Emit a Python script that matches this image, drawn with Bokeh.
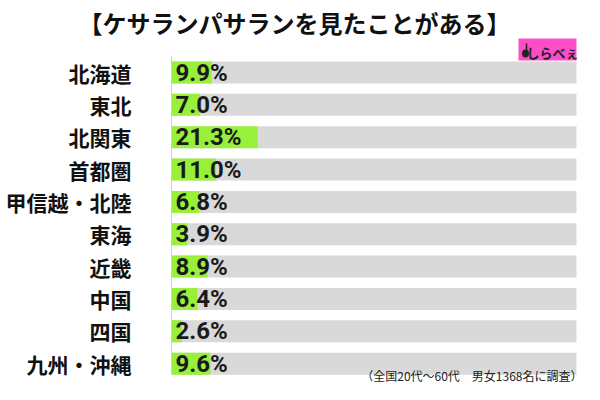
from bokeh.plotting import figure
from bokeh.models import Range1d, ColumnDataSource
from bokeh.embed import file_html
from bokeh.resources import INLINE
from bokeh.core.properties import value

# ---- data ----
title = "【ケサランパサランを見たことがある】"
categories = ["北海道", "東北", "北関東", "首都圏", "甲信越・北陸",
              "東海", "近畿", "中国", "四国", "九州・沖縄"]
values = [9.9, 7.0, 21.3, 11.0, 6.8, 3.9, 8.9, 6.4, 2.6, 9.6]
full_scale = 100
note = "（全国20代～60代　男女1368名に調査）"
brand = "しらべぇ"

# ---- layout (pixels) ----
W, H = 584, 384
X0_PX, X100_PX = 171, 576
ROW0_PX, ROW_STEP_PX = 72, 32.35

ux = (X100_PX - X0_PX) / 100.0
xs = -X0_PX / ux
xe = xs + W / ux
y_top = -ROW0_PX / ROW_STEP_PX
y_bottom = y_top + H / ROW_STEP_PX


def X(px):
    return xs + px / ux


def Y(py):
    return y_top + py / ROW_STEP_PX


rows = list(range(len(categories)))
labels = [f"{v:.1f}%" for v in values]
src = ColumnDataSource(dict(row=rows, cat=categories, val=values, lab=labels,
                            full=[full_scale] * len(rows)))

p = figure(width=W, height=H, x_range=Range1d(xs, xe),
           y_range=Range1d(y_bottom, y_top),
           x_axis_location=None, y_axis_location=None,
           output_backend="svg", toolbar_location=None, min_border=0)
p.grid.visible = False
p.outline_line_color = None
p.background_fill_color = "white"
p.border_fill_color = "white"

BAR_H = 0.68
p.hbar(y="row", left=0, right="full", height=BAR_H, source=src,
       fill_color="#d9d9d9", line_color=None)
p.hbar(y="row", left=0, right="val", height=BAR_H, source=src,
       fill_color="#99f03a", line_color=None)

# vertical axis line
p.segment(x0=[0], y0=[Y(56)], x1=[0], y1=[Y(373)], line_color="#cfcfcf", line_width=1)

# category labels
p.text(x=X(131), y="row", text="cat", source=src, text_align="right",
       text_baseline="middle", text_font=value("Noto Sans CJK JP"),
       text_font_style="bold", text_font_size="21px", text_color="#111111")

# value labels
p.text(x=X(175), y="row", text="lab", source=src, text_align="left",
       text_baseline="middle", text_font=value("Roboto"),
       text_font_style="bold", text_font_size="24px", text_color="#1a1a1a")

# title
p.text(x=[X(294)], y=[Y(22)], text=[title], text_align="center",
       text_baseline="middle", text_font=value("Noto Sans CJK JP"),
       text_font_style="bold", text_font_size="24px", text_color="#111111")

# footnote
p.text(x=[X(582)], y=[Y(375)], text=[note], text_align="right",
       text_baseline="middle", text_font=value("Noto Sans CJK JP"),
       text_font_size="12px", text_color="#222222")

# brand logo
p.quad(left=[X(518)], right=[X(576)], top=[Y(38)], bottom=[Y(60)],
       fill_color="#ff4dc8", line_color=None)
p.ellipse(x=[X(525)], y=[Y(53)], width=[7 / ux], height=[8 / ROW_STEP_PX],
          fill_color="#222222", line_color=None)
p.segment(x0=[X(526)], y0=[Y(43)], x1=[X(526)], y1=[Y(52)], line_color="#222222", line_width=1.5)
p.text(x=[X(552)], y=[Y(52)], text=[brand], text_align="center",
       text_baseline="middle", text_font=value("Noto Sans CJK JP"),
       text_font_style="bold", text_font_size="13px", text_color="#222222")

open("out.html", "w").write(file_html(p, INLINE))
